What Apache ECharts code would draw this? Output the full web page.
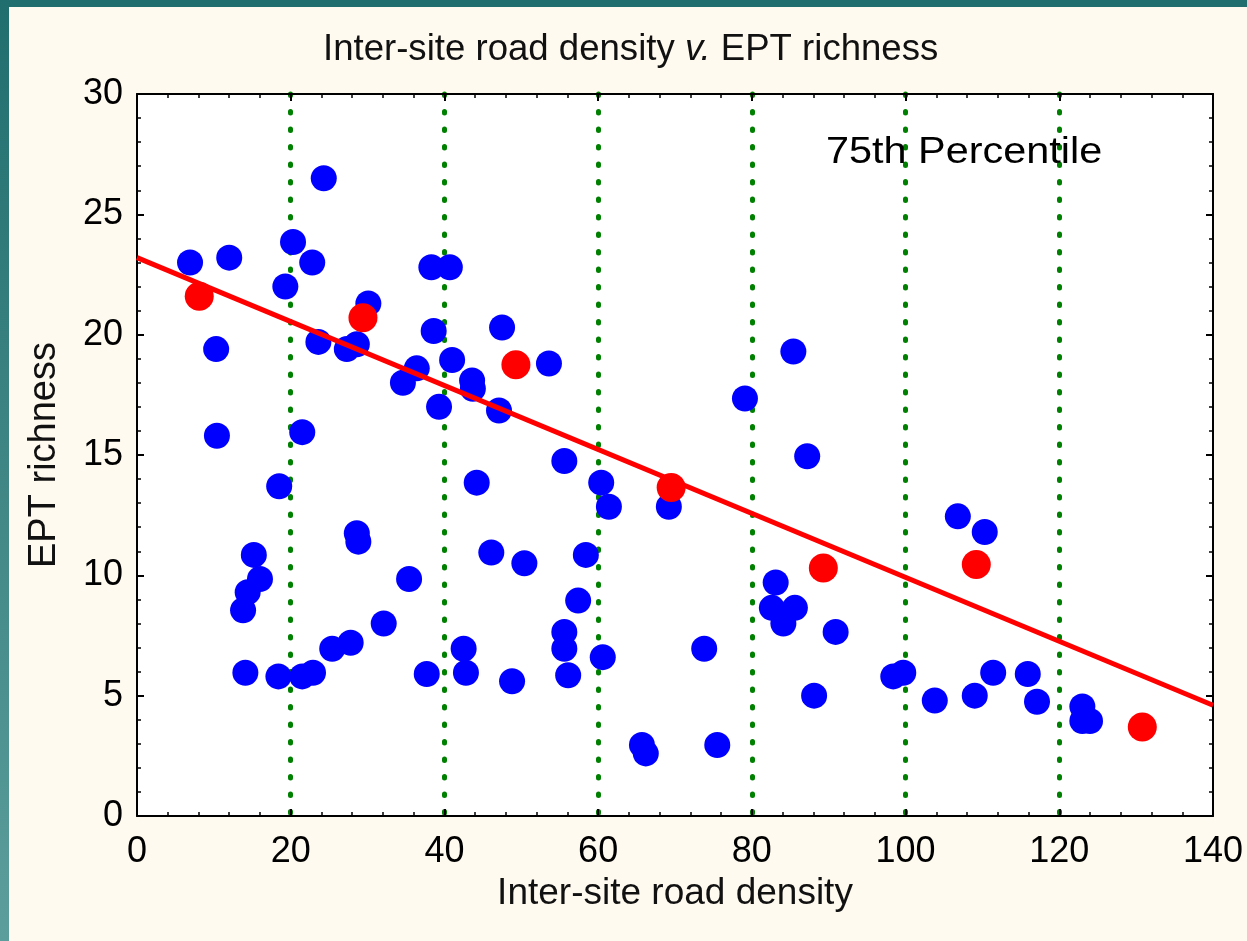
<!DOCTYPE html>
<html>
<head>
<meta charset="utf-8">
<script src="https://cdn.jsdelivr.net/npm/echarts@6/dist/echarts.min.js"></script>
<style>
html,body{margin:0;padding:0;background:#fffaf0;}
#chart{width:1247px;height:941px;}
</style>
</head>
<body>
<div id="chart"></div>
<script>
// ---- data ----
const titleParts = ['Inter-site road density ', 'v.', ' EPT richness'];
const xName = 'Inter-site road density';
const yName = 'EPT richness';
const annotation = '75th Percentile';

const xTicks = [0, 20, 40, 60, 80, 100, 120, 140];
const yTicks = [0, 5, 10, 15, 20, 25, 30];

const blueX = [6.9, 12.0, 10.3, 10.4, 20.3, 19.3, 22.8, 24.3, 23.6, 27.3, 28.6, 30.1, 21.5, 18.5, 15.2, 16.0, 14.4, 13.8, 14.1, 18.4, 21.5, 22.9, 25.4, 27.8, 28.6, 28.8, 32.1, 35.4, 34.6, 36.4, 38.3, 40.7, 38.6, 41.0, 39.3, 43.6, 43.7, 47.1, 47.5, 53.6, 44.2, 46.1, 50.4, 42.5, 42.8, 37.7, 48.8, 55.6, 55.6, 55.6, 56.1, 57.4, 58.4, 60.4, 61.4, 60.6, 65.7, 66.2, 69.2, 73.8, 75.5, 79.1, 85.4, 87.2, 83.1, 82.6, 85.6, 84.1, 88.1, 90.9, 98.4, 99.7, 103.8, 109.0, 106.8, 110.3, 111.4, 115.9, 117.1, 123.0, 123.0, 124.0];
const blueY = [23.0, 23.2, 19.4, 15.8, 23.85, 22.0, 23.0, 26.5, 19.7, 19.4, 19.6, 21.3, 15.95, 13.7, 10.85, 9.85, 9.3, 8.55, 5.95, 5.8, 5.8, 5.95, 6.95, 7.2, 11.75, 11.4, 8.0, 9.85, 18.0, 18.6, 22.8, 22.8, 20.15, 18.95, 17.0, 18.1, 17.75, 16.85, 20.3, 18.8, 13.85, 10.95, 10.5, 6.95, 5.95, 5.9, 5.6, 14.75, 7.65, 6.95, 5.85, 8.95, 10.85, 13.85, 12.85, 6.6, 2.95, 2.6, 12.85, 6.95, 2.95, 17.35, 19.3, 14.95, 9.7, 8.65, 8.65, 8.0, 5.0, 7.65, 5.8, 5.95, 4.8, 5.0, 12.45, 11.8, 5.95, 5.9, 4.75, 4.55, 3.95, 3.95];

const redX = [8.1, 29.4, 49.3, 69.5, 89.3, 109.2, 130.8];
const redY = [21.6, 20.7, 18.75, 13.65, 10.3, 10.45, 3.7];

const trendX = [0, 140];
const trendY = [23.2, 4.6];

// ---- build ----
const zip = (a, b) => a.map((v, i) => [v, b[i]]);
const chart = echarts.init(document.getElementById('chart'), null, {renderer: 'canvas'});
const FONT = '"Liberation Sans", Arial, sans-serif';
const black = '#000';

const axisCommon = {
  type: 'value',
  axisLine: {show: true, onZero: false, lineStyle: {color: black, width: 2}},
  axisTick: {show: true, inside: true, length: 7, lineStyle: {color: black, width: 2}},
  minorTick: {show: true, splitNumber: 5, length: 4, lineStyle: {color: black, width: 1.5}},
  splitLine: {show: false}
};

const option = {
  backgroundColor: '#fffaf0',
  animation: false,
  title: {
    text: '{n|' + titleParts[0] + '}{i|' + titleParts[1] + '}{n|' + titleParts[2] + '}',
    left: 318, top: 26,
    textStyle: {
      fontWeight: 'normal',
      rich: {
        n: {fontFamily: FONT, fontSize: 36.6, fontWeight: 'normal', color: '#111'},
        i: {fontFamily: FONT, fontSize: 36.6, fontWeight: 'normal', fontStyle: 'italic', color: '#111'}
      }
    }
  },
  grid: {left: 137, right: 34, top: 94, bottom: 125, show: true, backgroundColor: '#ffffff', borderWidth: 0},
  xAxis: [
    Object.assign({}, axisCommon, {
      min: xTicks[0], max: xTicks[xTicks.length - 1], interval: 20, position: 'bottom',
      name: xName, nameLocation: 'middle', nameGap: 48,
      nameTextStyle: {fontFamily: FONT, fontSize: 37, color: '#111'},
      axisLabel: {fontFamily: FONT, fontSize: 36, color: black, margin: 18},
      splitLine: {show: true, showMinLine: false, showMaxLine: false,
        lineStyle: {color: '#008000', width: 5, type: [1.5, 16], cap: 'round'}}
    }),
    Object.assign({}, axisCommon, {
      min: xTicks[0], max: xTicks[xTicks.length - 1], interval: 20, position: 'top',
      axisLabel: {show: false}
    })
  ],
  yAxis: [
    Object.assign({}, axisCommon, {
      min: yTicks[0], max: yTicks[yTicks.length - 1], interval: 5, position: 'left',
      name: yName, nameLocation: 'middle', nameGap: 73,
      nameTextStyle: {fontFamily: FONT, fontSize: 38, color: '#111'},
      axisLabel: {fontFamily: FONT, fontSize: 36, color: black, margin: 14}
    }),
    Object.assign({}, axisCommon, {
      min: yTicks[0], max: yTicks[yTicks.length - 1], interval: 5, position: 'right',
      axisLabel: {show: false}
    })
  ],
  graphic: [
    {type: 'rect', left: 0, top: 0, z: 100, shape: {width: 1247, height: 7}, style: {fill: '#216e6e'}},
    {type: 'rect', left: 0, top: 0, z: 100, shape: {width: 9, height: 941},
      style: {fill: new echarts.graphic.LinearGradient(0, 0, 0, 1, [
        {offset: 0, color: '#216e6e'}, {offset: 1, color: '#5c9e9c'}])}},
    {type: 'text', x: 826, y: 153, z: 100, scaleX: 1.15, scaleY: 1,
      style: {text: annotation, font: '36px "Liberation Sans", Arial, sans-serif', fill: '#000',
        textAlign: 'left', textVerticalAlign: 'middle'}}
  ],
  series: [
    {type: 'scatter', name: 'sites', data: zip(blueX, blueY), symbolSize: 26,
      itemStyle: {color: '#0000ff', opacity: 1}, z: 2},
    {type: 'line', name: 'fit', data: zip(trendX, trendY), showSymbol: false, symbol: 'none',
      lineStyle: {color: '#ff0000', width: 5}, z: 3},
    {type: 'scatter', name: '75th percentile', data: zip(redX, redY), symbolSize: 29,
      itemStyle: {color: '#ff0000', opacity: 1}, z: 4}
  ]
};
chart.setOption(option);
</script>
</body>
</html>
